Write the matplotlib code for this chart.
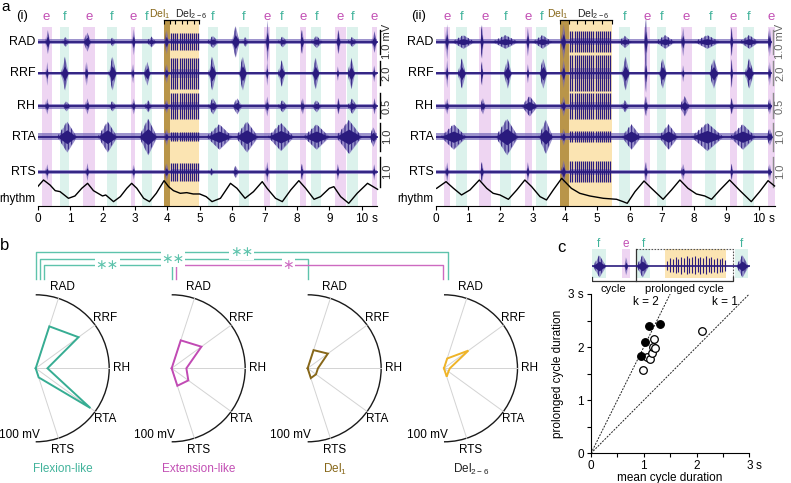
import matplotlib
matplotlib.use("Agg")
import matplotlib.pyplot as plt
from matplotlib.patches import Arc
import numpy as np

plt.rcParams['font.family'] = ['Liberation Sans', 'DejaVu Sans']
plt.rcParams['mathtext.fontset'] = 'custom'
plt.rcParams['mathtext.rm'] = 'Liberation Sans'
plt.rcParams['mathtext.default'] = 'regular'
plt.rcParams['hatch.linewidth'] = 0.7

# ---------------- data: panel a ----------------
CHANNELS = ['RAD', 'RRF', 'RH', 'RTA', 'RTS']
SCALE_MV = [1.0, 2.0, 0.5, 1.0, 1.0]
SCALE_LABELS = ['1.0 mV', '2.0', '0.5', '1.0', '1.0']
NOISE_MV = [0.10, 0.15, 0.05, 0.12, 0.06]

# phase bands (s)
E_I = [(0.12, 0.43), (1.41, 1.77), (2.88, 3.01), (6.98, 7.16), (8.09, 8.27), (9.18, 9.50), (10.33, 10.47)]
F_I = [(0.69, 0.98), (2.15, 2.44), (3.22, 3.53), (5.25, 5.56), (6.21, 6.52), (7.37, 7.72), (8.45, 8.75), (9.56, 9.89)]
DEL_I = [3.89, 4.07, 4.25, 4.44, 4.62, 4.81, 4.99]
E_II = [(0.26, 0.44), (1.35, 1.70), (2.76, 2.97), (6.44, 6.65), (7.59, 7.92), (9.12, 9.33), (10.29, 10.50)]
F_II = [(0.63, 0.96), (1.99, 2.32), (3.10, 3.45), (5.68, 6.01), (6.84, 7.14), (8.33, 8.69), (9.52, 9.85)]
DEL_II = [3.86, 4.13, 4.37, 4.63, 4.88, 5.14, 5.45]

# EMG bursts: (centre s, half width s, peak amplitude mV)
RAD_I = [(0.30, 0.07, 0.50), (0.85, 0.12, 0.20), (1.52, 0.12, 0.40), (2.30, 0.10, 0.18), (2.95, 0.05, 0.55),
         (3.50, 0.15, 0.22), (3.97, 0.06, 0.50), (5.40, 0.18, 0.25), (6.10, 0.12, 0.65), (6.40, 0.10, 0.20),
         (7.08, 0.05, 0.90), (7.55, 0.15, 0.22), (8.15, 0.06, 0.50), (8.60, 0.18, 0.25), (9.27, 0.07, 0.50),
         (9.70, 0.15, 0.20), (10.38, 0.08, 0.45)]
RRF_I = [(0.28, 0.04, 1.0), (0.83, 0.11, 1.4), (1.50, 0.05, 1.0), (2.30, 0.12, 1.4), (2.93, 0.04, 0.8),
         (3.37, 0.10, 1.0), (3.97, 0.06, 0.8), (5.38, 0.12, 1.4), (6.32, 0.12, 1.4), (7.07, 0.04, 1.0),
         (7.52, 0.11, 1.1), (8.57, 0.11, 1.3), (9.25, 0.04, 0.6), (9.67, 0.11, 1.3), (10.37, 0.05, 0.7)]
RH_I = [(0.28, 0.06, 0.16), (0.88, 0.12, 0.10), (1.52, 0.07, 0.16), (2.30, 0.12, 0.10), (2.95, 0.06, 0.16),
        (3.40, 0.12, 0.12), (3.97, 0.06, 0.14), (5.40, 0.15, 0.16), (6.15, 0.15, 0.16), (7.07, 0.06, 0.20),
        (7.55, 0.15, 0.12), (8.17, 0.06, 0.16), (8.60, 0.15, 0.12), (9.27, 0.06, 0.16), (9.70, 0.15, 0.15),
        (10.38, 0.06, 0.16)]
RTA_I = [(0.90, 0.30, 0.55), (2.15, 0.30, 0.55), (3.40, 0.28, 0.65), (3.97, 0.06, 0.30), (5.60, 0.40, 0.45),
         (6.45, 0.35, 0.55), (7.50, 0.40, 0.50), (8.60, 0.40, 0.45), (9.60, 0.40, 0.60), (10.35, 0.12, 0.35)]
RTS_I = [(0.28, 0.05, 0.27), (1.52, 0.05, 0.30), (2.95, 0.05, 0.25), (3.97, 0.06, 0.30), (5.35, 0.10, 0.12),
         (6.10, 0.10, 0.20), (7.07, 0.05, 0.35), (8.15, 0.05, 0.27), (9.25, 0.05, 0.27), (10.37, 0.05, 0.27)]

RAD_II = [(0.34, 0.05, 0.75), (0.85, 0.35, 0.28), (1.42, 0.05, 0.70), (2.15, 0.40, 0.28), (2.84, 0.05, 0.60),
          (3.30, 0.30, 0.28), (3.95, 0.07, 0.75), (5.85, 0.20, 0.25), (6.50, 0.05, 1.00), (7.10, 0.30, 0.28),
          (7.65, 0.05, 0.60), (8.40, 0.40, 0.28), (9.15, 0.05, 0.60), (9.70, 0.30, 0.28), (10.33, 0.05, 0.60)]
RRF_II = [(0.34, 0.04, 1.2), (0.80, 0.12, 1.25), (1.42, 0.04, 1.0), (2.22, 0.12, 1.25), (2.84, 0.04, 0.8),
          (3.32, 0.12, 1.25), (3.95, 0.06, 1.2), (5.87, 0.12, 1.4), (6.50, 0.04, 1.6), (7.02, 0.12, 1.25),
          (7.65, 0.04, 0.7), (8.60, 0.14, 1.25), (9.15, 0.04, 1.2), (9.70, 0.14, 1.25), (10.33, 0.04, 1.0)]
RH_II = [(0.34, 0.06, 0.16), (1.45, 0.08, 0.16), (2.90, 0.25, 0.20), (3.95, 0.07, 0.20), (5.85, 0.12, 0.12),
         (6.50, 0.06, 0.20), (7.70, 0.15, 0.20), (9.15, 0.07, 0.16), (10.33, 0.06, 0.16)]
RTA_II = [(0.55, 0.40, 0.45), (2.20, 0.35, 0.65), (3.40, 0.22, 0.60), (3.95, 0.07, 0.30), (6.05, 0.30, 0.45),
          (7.20, 0.30, 0.45), (8.40, 0.50, 0.50), (9.50, 0.40, 0.45), (10.33, 0.10, 0.30)]
RTS_II = [(0.34, 0.05, 0.33), (1.42, 0.06, 0.33), (2.84, 0.05, 0.33), (3.95, 0.07, 0.40), (6.50, 0.05, 0.33),
          (7.65, 0.06, 0.27), (9.15, 0.05, 0.27), (10.33, 0.05, 0.27)]

# responses to the Del2-6 stimulus train (s) and their amplitude per channel (mV)
STIM_I = [4.12, 4.18, 4.25, 4.31, 4.38, 4.44, 4.51, 4.57, 4.64, 4.70, 4.77, 4.83, 4.90, 4.96]
STIM_II = [4.17, 4.23, 4.30, 4.36, 4.43, 4.49, 4.56, 4.62, 4.69, 4.75, 4.82, 4.88, 4.95, 5.01,
           5.08, 5.14, 5.21, 5.27, 5.34, 5.40]
STIM_AMP_I = [0.35, 1.3, 0.26, 0.15, 0.30]
STIM_AMP_II = [0.45, 1.5, 0.26, 0.20, 0.35]

# rhythm signal (a.u.)
RHY_I_T = [0.0, 0.18, 0.38, 0.54, 0.69, 0.95, 1.15, 1.36, 1.54, 1.72, 2.0, 2.1, 2.34, 2.55, 2.75, 2.9, 3.06,
           3.27, 3.45, 3.66, 3.9, 4.04, 4.19, 4.4, 4.6, 4.8, 5.0, 5.2, 5.38, 5.64, 5.95, 6.15, 6.4, 6.66, 6.93,
           7.08, 7.34, 7.55, 7.81, 8.06, 8.27, 8.53, 8.73, 9.0, 9.14, 9.35, 9.6, 9.86, 10.18, 10.49]
RHY_I_V = [5.0, 7.0, 5.5, 3.8, 3.5, 1.5, 2.2, 4.5, 6.0, 3.8, 2.2, 2.5, 0.5, 2.0, 4.5, 6.0, 4.5, 1.5, 0.5, 3.0,
           6.8, 5.0, 3.8, 3.0, 3.2, 2.8, 2.8, 2.0, 0.5, 1.5, 6.0, 4.5, 1.5, 3.5, 6.5, 4.5, 1.5, 0.5, 4.0, 6.8,
           4.5, 1.2, 2.0, 4.5, 5.0, 2.0, 0.0, 3.0, 6.0, 4.2]
RHY_II_T = [0.03, 0.32, 0.55, 0.8, 1.06, 1.35, 1.58, 1.78, 1.99, 2.25, 2.51, 2.76, 2.97, 3.23, 3.43, 3.64, 3.9,
            4.05, 4.2, 4.46, 4.77, 5.19, 5.6, 5.8, 5.93, 6.17, 6.45, 6.68, 7.04, 7.3, 7.56, 7.81, 8.07, 8.33,
            8.54, 8.8, 9.1, 9.4, 9.77, 10.03, 10.29, 10.49]
RHY_II_V = [4.5, 6.5, 4.5, 2.5, 4.0, 7.0, 4.5, 3.0, 2.5, 1.2, 4.0, 7.0, 5.0, 2.0, 1.0, 4.0, 7.5, 6.0, 4.5, 3.0,
            2.2, 1.5, 1.2, 0.5, 0.0, 3.5, 6.7, 4.5, 1.2, 4.0, 7.0, 4.5, 2.8, 2.2, 1.2, 4.0, 7.0, 4.0, 0.5, 3.5,
            6.8, 5.2]

# ---------------- data: panel b ----------------
SPOKE_DEG = [72, 36, 0, -36, -72]
RADAR_MAX = 100
FLEXION = [60, 72, 16, 92, 13]
EXTENSION = [40, 50, 20, 28, 25]
DEL1 = [26, 34, 14, 14, 14]
DEL26 = [14, 41, 8, 7.5, 12]
SIG_PAIRS = [(0, 3), (0, 2), (0, 1), (1, 3)]
SIG_TEXT = ['\u2217\u2217', '\u2217\u2217', '\u2217\u2217', '\u2217']

# ---------------- data: panel c ----------------
MEAN_FILLED = [0.95, 1.03, 1.09, 1.30]
PROL_FILLED = [1.84, 2.09, 2.40, 2.43]
MEAN_OPEN = [0.99, 1.07, 1.12, 1.15, 1.17, 1.21, 1.20, 2.10]
PROL_OPEN = [1.57, 1.81, 1.78, 1.88, 2.01, 1.98, 2.15, 2.31]
K_LINES = [2, 1]
INSET_F = [(0.01, 0.32), (1.03, 1.32), (3.26, 3.56)]
INSET_E = [(0.69, 0.88)]
INSET_DEL = (1.66, 3.05)
INSET_BURSTS = [(0.17, 0.15, 11), (0.78, 0.035, 9), (1.15, 0.14, 11), (3.42, 0.14, 11)]
INSET_STIM = [1.72, 1.78, 1.84, 1.91, 1.97, 2.03, 2.09, 2.16, 2.22, 2.28, 2.34, 2.41, 2.47, 2.53, 2.59,
              2.66, 2.72, 2.78, 2.84, 2.91, 2.97, 3.03]
INSET_STIM_AMP = [5.5, 8, 7, 9, 7.5, 9.5, 8, 10, 8.5, 9, 10, 8, 9.5, 8.5, 10, 8, 9, 7.5, 8.5, 7, 8, 6]

# ---------------- style ----------------
TRACE = '#2a1b7e'
TRACE_LIGHT = '#7467b8'
E_BAND = '#eed5f2'
F_BAND = '#dcf2ec'
DEL1_BAND = '#b99549'
DEL26_BAND = '#fbe4b2'
E_COL = '#c24fb4'
F_COL = '#41b39b'
FLEX_COL = '#37ad93'
EXT_COL = '#c14ab4'
DEL1_COL = '#876719'
DEL26_COL = '#efb428'
TEAL_BR = '#5ec3ac'
MAG_BR = '#cd6ac1'

W, H = 791, 483
fig = plt.figure(figsize=(W / 100, H / 100), dpi=100)


def px_axes(x0, y0, x1, y1):
    return fig.add_axes([x0 / W, 1 - y1 / H, (x1 - x0) / W, (y1 - y0) / H])


def fig_text(x, y, s, **kw):
    fig.text(x / W, 1 - y / H, s, **kw)


TRACE_Y = [41.7, 73.3, 106, 136.7, 171.7]   # baseline of each trace (px from top)
GAIN = [24, 12, 50, 28, 30]                 # px per mV


def spindle(ax, tc, hw, a, base):
    xs = [tc - hw, tc, tc + hw]
    lo, hi = [base, base - a, base], [base, base + a, base]
    ax.fill_between(xs, lo, hi, color=TRACE_LIGHT, alpha=0.7, lw=0, zorder=2)
    ax.fill_between(xs, lo, hi, facecolor='none', edgecolor=TRACE, hatch='|||||', lw=0, zorder=3)
    ax.fill_between(xs, [base, base - 0.45 * a, base], [base, base + 0.45 * a, base],
                    color=TRACE, lw=0, zorder=3)


def draw_trace(ax, base, gain, noise, bursts, stim, stim_amp, t_end):
    n = noise * gain
    ax.fill_between([0, t_end], base - n, base + n, color=TRACE_LIGHT, alpha=0.7, lw=0, zorder=2)
    ax.plot([0, t_end], [base, base], color=TRACE, lw=1.3, zorder=3)
    for tc, hw, amp in bursts:
        spindle(ax, tc, hw, amp * gain, base)
    s = stim_amp * gain
    ax.fill_between([stim[0], stim[-1]], base - 0.3 * s, base + 0.3 * s, color=TRACE_LIGHT, alpha=0.5,
                    lw=0, zorder=2)
    ax.vlines(stim, base - s, base + s, color=TRACE, lw=0.9, zorder=3)


def draw_emg_panel(ax, e_bands, f_bands, dels, stim, stim_amp, bursts, rt, rv, t_end, t_axis, t_bar,
                   bar_col, lab_col, del_txt_x):
    ax.set_xlim(0, 10.6)
    ax.set_ylim(206, 10)
    for a, b in e_bands:
        ax.fill_between([a, b], 27, 206, color=E_BAND, lw=0, zorder=0)
        ax.text((a + b) / 2, 20, 'e', color=E_COL, ha='center', va='baseline', fontsize=9.5)
    for a, b in f_bands:
        ax.fill_between([a, b], 27, 206, color=F_BAND, lw=0, zorder=0)
        ax.text((a + b) / 2, 20, 'f', color=F_COL, ha='center', va='baseline', fontsize=9.5)
    ax.fill_between([dels[0], dels[1]], 24, 206, color=DEL1_BAND, lw=0, zorder=0)
    ax.fill_between([dels[1], dels[-1]], 24, 206, color=DEL26_BAND, lw=0, zorder=0)
    # stimulus bracket
    ax.fill_between([dels[0], dels[1]], 20, 24, color=DEL1_BAND, lw=0, zorder=1)
    ax.fill_between([dels[1], dels[-1]], 20, 24, color=DEL26_BAND, lw=0, zorder=1)
    ax.plot([dels[0], dels[-1]], [20, 20], color='k', lw=0.9, zorder=4)
    ax.vlines(dels, 20, 24, color='k', lw=0.8, zorder=4)
    ax.text(del_txt_x[0], 17.5, 'Del$_1$', color=DEL1_COL, ha='right', va='baseline', fontsize=7.5)
    ax.text(del_txt_x[1], 17.5, 'Del$_{2-6}$', color='#222', ha='left', va='baseline', fontsize=7.5)

    for i, ch in enumerate(CHANNELS):
        base = TRACE_Y[i]
        draw_trace(ax, base, GAIN[i], NOISE_MV[i], bursts[i], stim, stim_amp[i], t_end)
        ax.text(-0.07, base, ch, ha='right', va='center', fontsize=9)
        half = SCALE_MV[i] * GAIN[i] / 2
        ax.plot([t_bar, t_bar], [base - half, base + half], color=bar_col, lw=1.0, clip_on=False)
        ax.text(t_bar + 0.21, base, SCALE_LABELS[i], rotation=90, ha='center', va='center',
                fontsize=8, color=lab_col, clip_on=False)

    ax.plot(rt, 203.3 - 3.33 * np.array(rv), color='k', lw=1.0, zorder=3)
    ax.text(-0.07, 199.3, 'rhythm', ha='right', va='center', fontsize=8.5)

    for sp in ['top', 'right', 'left']:
        ax.spines[sp].set_visible(False)
    ax.spines['bottom'].set_bounds(0, t_axis)
    ax.spines['bottom'].set_linewidth(0.8)
    ax.set_yticks([])
    ax.set_xticks(range(11))
    ax.set_xticklabels([str(v) for v in range(11)])
    ax.tick_params(axis='x', length=3, width=0.8, pad=2, labelsize=8.5)
    ax.annotate('s', xy=(10, 0), xycoords=('data', 'axes fraction'), xytext=(7, -5),
                textcoords='offset points', ha='left', va='top', fontsize=8.5)


ax_i = px_axes(37.7, 10, 37.7 + 10.6 * 32.4, 206)
draw_emg_panel(ax_i, E_I, F_I, DEL_I, STIM_I, STIM_AMP_I, [RAD_I, RRF_I, RH_I, RTA_I, RTS_I],
               RHY_I_T, RHY_I_V, 10.47, 10.46, 10.565, 'k', '#333333', (DEL_I[1] + 0.02, DEL_I[1] + 0.16))
ax_ii = px_axes(435.7, 10, 435.7 + 10.6 * 32.3, 206)
draw_emg_panel(ax_ii, E_II, F_II, DEL_II, STIM_II, STIM_AMP_II, [RAD_II, RRF_II, RH_II, RTA_II, RTS_II],
               RHY_II_T, RHY_II_V, 10.38, 10.5, 10.45, '#8c8c8c', '#666666', (DEL_II[1] - 0.03, DEL_II[1] + 0.24))

fig_text(1, 11, 'a', fontsize=11, va='baseline')
fig_text(16, 18.5, '(i)', fontsize=9.5, va='baseline')
fig_text(411, 18.5, '(ii)', fontsize=9.5, va='baseline')

# ---------------- panel b ----------------
R_PX = 73.5
CX0, CY = 35.7, 368.3
axb = px_axes(0, 240, 560, 483)
axb.set_xlim(-CX0 / R_PX, (560 - CX0) / R_PX)
axb.set_ylim((CY - 483) / R_PX, (CY - 240) / R_PX)
axb.axis('off')
RADAR_X = [0, 1.85, 3.70, 5.555]


def draw_radar(ax, cx, values, color, name, name_col):
    ax.add_patch(Arc((cx, 0), 2, 2, theta1=-90, theta2=90, color='#1a1a1a', lw=1.0))
    th = np.deg2rad(SPOKE_DEG)
    for t, ch in zip(th, CHANNELS):
        ax.plot([cx, cx + np.cos(t)], [0, np.sin(t)], color='#d3d3d3', lw=0.7, zorder=1)
        ax.text(cx + 1.17 * np.cos(t), 1.17 * np.sin(t), ch, ha='center', va='center', fontsize=8.5)
    r = np.array(values) / RADAR_MAX
    xs = np.concatenate([[cx], cx + r * np.cos(th), [cx]])
    ys = np.concatenate([[0], r * np.sin(th), [0]])
    ax.plot(xs, ys, color=color, lw=1.4, zorder=3, solid_joinstyle='miter')
    ax.text(cx + 0.05, -0.91, '100 mV', ha='right', va='center', fontsize=8.5)
    ax.text(cx + 0.37, -1.37, name, color=name_col, ha='center', va='center', fontsize=8.5)


draw_radar(axb, RADAR_X[0], FLEXION, FLEX_COL, 'Flexion-like', F_COL)
draw_radar(axb, RADAR_X[1], EXTENSION, EXT_COL, 'Extension-like', E_COL)
draw_radar(axb, RADAR_X[2], DEL1, DEL1_COL, 'Del$_1$', DEL1_COL)
draw_radar(axb, RADAR_X[3], DEL26, DEL26_COL, 'Del$_{2-6}$', '#222222')

BR_Y = [1.578, 1.487, 1.405, 1.405]
BR_DX = [(0, 0.058), (0.058, 0), (0.117, 0), (0.058, -0.01)]
BR_COL = [TEAL_BR, TEAL_BR, TEAL_BR, MAG_BR]
STAR_X = [2.80, 1.87, 0.974, 3.44]
for (i, j), txt, y, (d0, d1), col, sx in zip(SIG_PAIRS, SIG_TEXT, BR_Y, BR_DX, BR_COL, STAR_X):
    x0, x1 = RADAR_X[i] + d0, RADAR_X[j] + d1
    axb.plot([x0, x0, x1, x1], [1.21, y, y, 1.21], color=col, lw=1.0)
    axb.text(sx, y, txt, color=col, ha='center', va='center', fontsize=10, family=['DejaVu Sans'],
             bbox=dict(boxstyle='square,pad=0.05', fc='white', ec='none'))

fig_text(0, 250, 'b', fontsize=12, va='baseline')

# ---------------- panel c ----------------
axc = px_axes(591, 294, 749.3, 453.3)
axc.set_xlim(0, 3)
axc.set_ylim(0, 3)
for sp in ['top', 'right']:
    axc.spines[sp].set_visible(False)
for sp in ['left', 'bottom']:
    axc.spines[sp].set_linewidth(0.8)
for k in K_LINES:
    xe = min(3, 3 / k)
    axc.plot([0, xe], [0, k * xe], color='#222222', lw=0.7, ls=(0, (2, 1.3)))
axc.text(1.04, 2.85, 'k = 2', ha='center', va='center', fontsize=8.5)
axc.text(2.54, 2.85, 'k = 1', ha='center', va='center', fontsize=8.5)
axc.scatter(MEAN_OPEN, PROL_OPEN, s=30, facecolor='white', edgecolor='k', lw=0.9, zorder=3, clip_on=False)
axc.scatter(MEAN_FILLED, PROL_FILLED, s=30, facecolor='k', edgecolor='k', lw=0.9, zorder=4, clip_on=False)
axc.set_xticks([0, 1, 2, 3])
axc.set_xticklabels(['0', '1', '2', '3'])
axc.set_yticks([0, 1, 2, 3])
axc.set_yticklabels(['0', '1', '2', '3 s'])
axc.set_xticks([0.5, 1.5, 2.5], minor=True)
axc.set_yticks([0.5, 1.5, 2.5], minor=True)
axc.tick_params(which='both', length=3, width=0.8, pad=2, labelsize=8.5)
axc.annotate('s', xy=(3, 0), xycoords=('data', 'axes fraction'), xytext=(4.5, -5),
             textcoords='offset points', ha='left', va='top', fontsize=8.5)
axc.set_xlabel('mean cycle duration', fontsize=8.5, labelpad=-0.5)
axc.set_ylabel('prolonged cycle duration', fontsize=8.5, labelpad=3)

# inset trace above the scatter
axn = px_axes(591.7, 240, 591.7 + 3.6 * 44, 292)
axn.set_xlim(0, 3.6)
axn.set_ylim(292, 240)
axn.axis('off')
for a, b in INSET_F:
    axn.fill_between([a, b], 249.3, 278.3, color=F_BAND, lw=0, zorder=0)
    axn.text((a + b) / 2, 247, 'f', color=F_COL, ha='center', va='baseline', fontsize=8.5, clip_on=False)
for a, b in INSET_E:
    axn.fill_between([a, b], 249.3, 278.3, color=E_BAND, lw=0, zorder=0)
    axn.text((a + b) / 2, 247, 'e', color=E_COL, ha='center', va='baseline', fontsize=8.5, clip_on=False)
axn.fill_between(list(INSET_DEL), 249.3, 278.3, color=DEL26_BAND, lw=0, zorder=0)
base = 266
axn.plot([0, 3.6], [base, base], color=TRACE, lw=1.2, zorder=3)
for tc, hw, a in INSET_BURSTS:
    spindle(axn, tc, hw, a, base)
axn.vlines(INSET_STIM, base - np.array(INSET_STIM_AMP), base + np.array(INSET_STIM_AMP) * 0.8,
           color=TRACE, lw=0.8, zorder=3)
# prolonged cycle frame and brackets
axn.plot([1.0, 3.2, 3.2], [249.3, 249.3, 278.3], color='#555555', lw=0.8, ls=(0, (1.5, 1.2)))
axn.plot([1.0, 1.0], [249.3, 281], color='#333333', lw=0.9)
axn.plot([0.01, 0.01, 3.2, 3.2], [277, 281, 281, 277], color='#333333', lw=0.9)
axn.text(0.5, 288.5, 'cycle', ha='center', va='center', fontsize=8)
axn.text(2.1, 288.5, 'prolonged cycle', ha='center', va='center', fontsize=8)

fig_text(557, 252, 'c', fontsize=12, va='baseline')

fig.savefig('out.png', dpi=100)
